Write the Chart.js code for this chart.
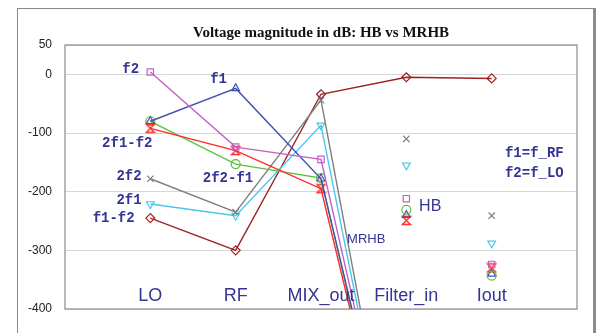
<!DOCTYPE html>
<html>
<head>
<meta charset="utf-8">
<script src="https://cdn.jsdelivr.net/npm/chart.js@4/dist/chart.umd.min.js"></script>
<style>
  html,body{margin:0;padding:0;background:#fff;}
  #wrap{position:relative;width:599px;height:333px;overflow:hidden;}
  #frame{position:absolute;left:17px;top:8px;width:575px;height:340px;border-left:1px solid #8a8a8a;border-top:1px solid #8a8a8a;border-right:3px solid #8a8a8a;}
  canvas{position:absolute;left:0;top:0;}
</style>
</head>
<body>
<div id="wrap">
  <div id="frame"></div>
  <canvas id="c" width="599" height="333"></canvas>
</div>
<script>
// ---- data ----
const categories = ['LO', 'RF', 'MIX_out', 'Filter_in', 'Iout'];
const yTicks = [50, 0, -100, -200, -300, -400];

// MRHB results (lines); values below -400 run off the chart
const mrhbF2    = [4,    -124, -145, -787, null];
const mrhbF1    = [-80,  -24,  -178, -789, null];
const mrhb2F1F2 = [-92,  -130, -195, -798, null];
const mrhb2F2F1 = [-80,  -153, -177, -803, null];
const mrhb2F2   = [-178, -235, -44,  -815, null];
const mrhb2F1   = [-221, -241, -87,  -809, null];
const mrhbF1F2  = [-245, -300, -34,  -5,   -7];

// HB results (markers only) at Filter_in and Iout
const hbCats    = ['Filter_in', 'Iout'];
const hbF2      = [-212, -324];
const hbF1      = [-240, -340];
const hb2F1F2   = [-249, -330];
const hb2F2F1   = [-231, -343];
const hb2F2     = [-110, -241];
const hb2F1     = [-155, -288];

// ---- styles ----
const C = {
  f2: '#c462c4', f1: '#4252ad', r: '#ff2a2a', g: '#5cbf3a',
  gray: '#7f7f7f', cyan: '#45c8ec', brown: '#9b2323'
};
function hourglass(color){
  const cv = document.createElement('canvas');
  cv.width = 11; cv.height = 11;
  const x = cv.getContext('2d');
  x.strokeStyle = color; x.lineWidth = 1.3;
  x.beginPath(); x.moveTo(1.5,1.5); x.lineTo(9.5,1.5); x.lineTo(1.5,9.5); x.lineTo(9.5,9.5); x.closePath();
  x.stroke();
  return cv;
}
const hg = hourglass(C.r);

const idx = c => categories.indexOf(c) + 1;
const pts = arr => arr.map((v, i) => ({x: i + 1, y: v}));
const hbPts = arr => arr.map((v, i) => ({x: idx(hbCats[i]), y: v}));

function lineDs(label, data, color, style, rot){
  return {label, data: pts(data), borderColor: color, backgroundColor: 'rgba(0,0,0,0)',
    pointBorderColor: color, pointBackgroundColor: 'rgba(0,0,0,0)', borderWidth: 1.4,
    pointStyle: style, pointRotation: rot || 0, pointRadius: 4.5, pointBorderWidth: 1.2,
    showLine: true, spanGaps: false, tension: 0};
}
function hbDs(label, data, color, style, rot){
  return {label, data: hbPts(data), borderColor: color, backgroundColor: 'rgba(0,0,0,0)',
    pointBorderColor: color, pointBackgroundColor: 'rgba(0,0,0,0)',
    pointStyle: style, pointRotation: rot || 0, pointRadius: 4.5, pointBorderWidth: 1.2,
    showLine: false};
}

const datasets = [
  lineDs('f2 MRHB', mrhbF2, C.f2, 'rect'),
  lineDs('f1 MRHB', mrhbF1, C.f1, 'triangle'),
  lineDs('2f1-f2 MRHB', mrhb2F1F2, C.r, hg),
  lineDs('2f2-f1 MRHB', mrhb2F2F1, C.g, 'circle'),
  lineDs('2f2 MRHB', mrhb2F2, C.gray, 'crossRot'),
  lineDs('2f1 MRHB', mrhb2F1, C.cyan, 'triangle', 180),
  lineDs('f1-f2 MRHB', mrhbF1F2, C.brown, 'rectRot'),
  hbDs('f2 HB', hbF2, C.f2, 'rect'),
  hbDs('2f2-f1 HB', hb2F2F1, C.g, 'circle'),
  hbDs('f1 HB', hbF1, C.f1, 'triangle'),
  hbDs('2f1-f2 HB', hb2F1F2, C.r, hg),
  hbDs('2f2 HB', hb2F2, C.gray, 'crossRot'),
  hbDs('2f1 HB', hb2F1, C.cyan, 'triangle', 180)
];

// text annotations (positions in data units)
const notes = [
  {t: 'f2',      x: 0.77, y: 9,    mono: true},
  {t: 'f1',      x: 1.80, y: -8,   mono: true},
  {t: '2f1-f2',  x: 0.73, y: -118, mono: true},
  {t: '2f2',     x: 0.75, y: -174, mono: true},
  {t: '2f1',     x: 0.75, y: -215, mono: true},
  {t: 'f1-f2',   x: 0.57, y: -246, mono: true},
  {t: '2f2-f1',  x: 1.91, y: -178, mono: true},
  {t: 'f1=f_RF', x: 5.50, y: -135, mono: true},
  {t: 'f2=f_LO', x: 5.50, y: -169, mono: true},
  {t: 'HB',      x: 4.28, y: -225, size: 16},
  {t: 'MRHB',    x: 3.53, y: -282, size: 13}
];

const overlay = {
  id: 'overlay',
  beforeDatasetsDraw(chart){
    const {ctx, chartArea: a} = chart;
    ctx.save();
    ctx.strokeStyle = '#8c8c8c'; ctx.lineWidth = 1.2;
    ctx.strokeRect(a.left, a.top, a.right - a.left, a.bottom - a.top);
    ctx.restore();
  },
  afterDatasetsDraw(chart){
    const {ctx, scales: {x, y}} = chart;
    ctx.save();
    ctx.fillStyle = '#343494';
    ctx.textAlign = 'center'; ctx.textBaseline = 'middle';
    ctx.font = '18px "Liberation Sans", Arial, sans-serif';
    categories.forEach((c, i) => ctx.fillText(c, x.getPixelForValue(i + 1), y.getPixelForValue(-378)));
    notes.forEach(n => {
      ctx.font = n.mono ? 'bold 14px "Liberation Mono", "Courier New", monospace'
                        : (n.size + 'px "Liberation Sans", Arial, sans-serif');
      ctx.fillText(n.t, x.getPixelForValue(n.x), y.getPixelForValue(n.y));
    });
    ctx.restore();
  }
};

new Chart(document.getElementById('c'), {
  type: 'scatter',
  data: {datasets},
  options: {
    responsive: false, animation: false,
    layout: {padding: {left: 18, right: 22, top: 0, bottom: 24}},
    plugins: {
      legend: {display: false}, tooltip: {enabled: false},
      title: {display: true, fullSize: false, text: 'Voltage magnitude in dB: HB vs MRHB', color: '#111',
        font: {family: '"Liberation Serif", "Times New Roman", serif', size: 15, weight: 'bold'},
        padding: {top: 24, bottom: 3}}
    },
    scales: {
      x: {type: 'linear', min: 0, max: 6, display: false},
      y: {min: -400, max: 50,
        afterBuildTicks: s => { s.ticks = yTicks.map(v => ({value: v})); },
        afterFit: s => { s.width = 47; },
        grid: {color: '#d6d6d6', drawTicks: false, lineWidth: 1},
        border: {display: false},
        ticks: {padding: 13, color: '#222', font: {family: '"Liberation Sans", Arial, sans-serif', size: 12}}
      }
    }
  },
  plugins: [overlay]
});
</script>
</body>
</html>
